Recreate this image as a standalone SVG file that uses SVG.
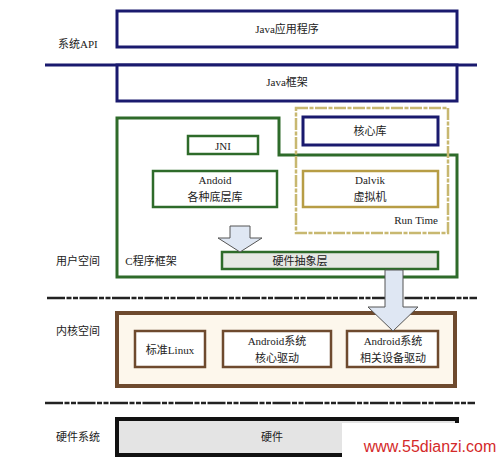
<svg xmlns="http://www.w3.org/2000/svg" width="500" height="458" viewBox="0 0 500 458">
<style>
text{font-family:"Liberation Serif","Noto Sans CJK SC",serif;font-size:11px;fill:#222;text-anchor:middle;dominant-baseline:central}
.lbl{text-anchor:start}
.navy{fill:#fff;stroke:#1a1a6e;stroke-width:3}
.green{fill:#fff;stroke:#2e6b2a;stroke-width:3}
.gsub{fill:#fff;stroke:#2e6b2a;stroke-width:2.5}
.tan{fill:#fff;stroke:#b79d45;stroke-width:2.5}
.brown{fill:#fdf7ec;stroke:#6e4a2e;stroke-width:4}
.bsub{fill:#fff;stroke:#6e4a2e;stroke-width:2.5}
.dash{stroke:#222;stroke-width:2.5;stroke-dasharray:18 1.5 5 1.5 5 1.5}
.arrow{fill:#dfe7f3;stroke:#555;stroke-width:1}
</style>
<rect width="500" height="458" fill="#fff"/>
<g id="labels">
<text class="lbl" x="58" y="44">系统API</text>
<text class="lbl" x="56" y="261">用户空间</text>
<text class="lbl" x="56" y="331">内核空间</text>
<text class="lbl" x="56" y="437">硬件系统</text>
</g>
<g id="separators">
<line x1="45" y1="65" x2="477" y2="65" stroke="#1a1a6e" stroke-width="3"/>
<line class="dash" x1="47" y1="298" x2="477" y2="298"/>
<line class="dash" x1="45" y1="403" x2="475" y2="403"/>
</g>
<g id="java-app">
<rect class="navy" x="117" y="11" width="340" height="36"/>
<text x="287" y="29">Java应用程序</text>
</g>
<g id="java-framework">
<rect class="navy" x="117" y="65" width="340" height="36"/>
<text x="287" y="82">Java框架</text>
</g>
<g id="c-framework">
<path class="green" d="M117,118 H279 V155 H457 V277 H117 Z"/>
<text x="151" y="261">C程序框架</text>
</g>
<g id="runtime">
<rect x="296" y="108" width="152" height="125" fill="none" stroke="#c8b870" stroke-width="2.5" stroke-dasharray="12 1.5 4 1.5"/>
<text x="438" y="220" style="text-anchor:end">Run Time</text>
</g>
<g id="jni">
<rect class="gsub" x="188" y="136" width="70" height="18"/>
<text x="223" y="146">JNI</text>
</g>
<g id="android-libs">
<rect class="gsub" x="153" y="171" width="124" height="36"/>
<text x="215" y="180">Andoid</text>
<text x="215" y="197">各种底层库</text>
</g>
<g id="core-libs">
<rect class="navy" x="303" y="117" width="135" height="28"/>
<text x="370" y="131">核心库</text>
</g>
<g id="dalvik">
<rect class="tan" x="303" y="171" width="135" height="36"/>
<text x="370" y="180">Dalvik</text>
<text x="370" y="197">虚拟机</text>
</g>
<g id="hal">
<rect class="gsub" x="222" y="252" width="216" height="17" style="fill:#e6e8e4"/>
<text x="300" y="261">硬件抽象层</text>
</g>
<g id="kernel">
<rect class="brown" x="117" y="313" width="338" height="73"/>
</g>
<g id="linux">
<rect class="bsub" x="135" y="331" width="70" height="36"/>
<text x="170" y="350">标准Linux</text>
</g>
<g id="core-drivers">
<rect class="bsub" x="223" y="331" width="108" height="36"/>
<text x="277" y="341">Android系统</text>
<text x="277" y="358">核心驱动</text>
</g>
<g id="device-drivers">
<rect class="bsub" x="347" y="331" width="91" height="36"/>
<text x="393" y="341">Android系统</text>
<text x="393" y="358">相关设备驱动</text>
</g>
<g id="hardware">
<rect x="117" y="419" width="340" height="36" fill="#e4e4e4" stroke="#111" stroke-width="4"/>
<text x="272" y="437">硬件</text>
</g>
<g id="connectors">
<path class="arrow" d="M230,226 H250 V238 H262 L240,252 L218,238 H230 Z"/>
<path class="arrow" d="M385,270 H403 V307 H418 L393,331 L368,307 H385 Z"/>
</g>
<g id="watermark">
<rect x="342" y="423" width="158" height="35" fill="#fff"/>
<text x="430" y="446" style="font-family:'Liberation Sans',sans-serif;font-size:16px;fill:#d42a2a">www.55dianzi.com</text>
</g>
</svg>
